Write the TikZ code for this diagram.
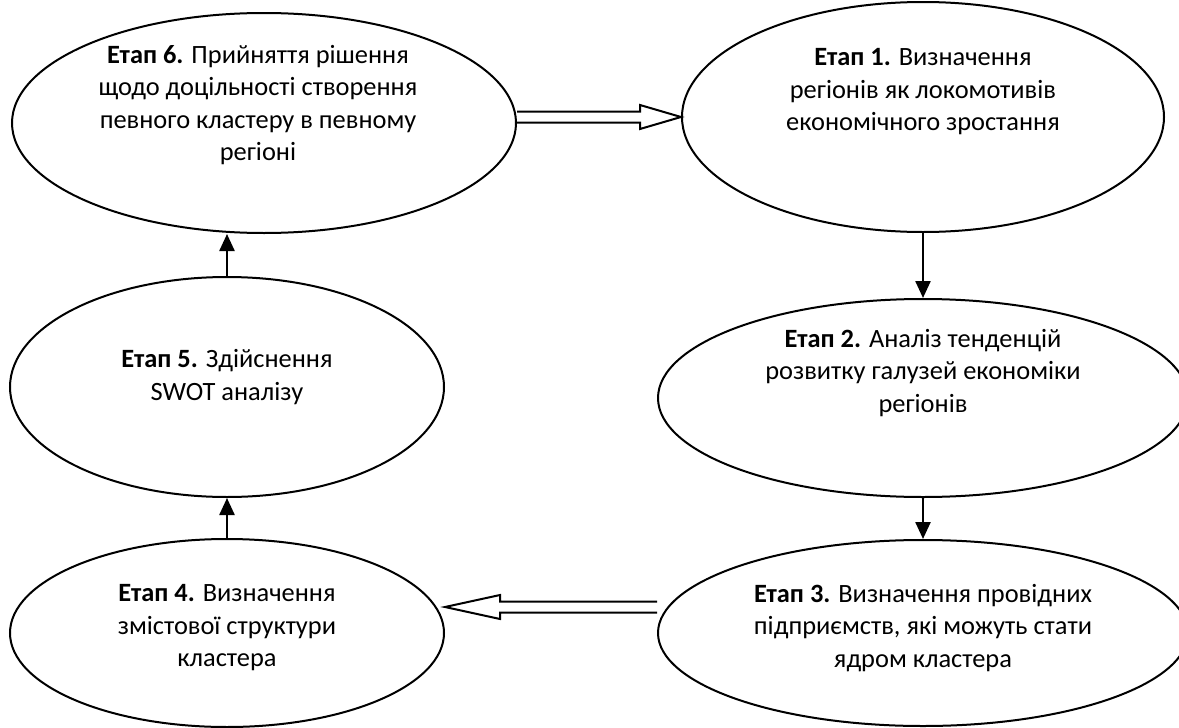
\documentclass[tikz,border=0pt]{standalone}
\usepackage{fontspec}
\setmainfont{Carlito}
\usetikzlibrary{calc,shapes.geometric,arrows.meta}

\begin{document}
\begin{tikzpicture}[x=0.5pt,y=-0.5pt, stage/.style={ellipse, draw, line width=1pt, inner sep=0pt},
	txt/.style={align=center, inner sep=0pt, font=\fontsize{13.2}{16.25}\selectfont},
	>={Triangle[length=8.5pt,width=7.5pt]}, line width=1.2pt]

\useasboundingbox (0,0) rectangle (1179,728);

% stages
\node[stage, minimum width=252pt, minimum height=110pt] (S6) at (264,123) {};
\node[stage, minimum width=241pt, minimum height=115pt] (S1) at (923,117) {};
\node[stage, minimum width=265pt, minimum height=99pt] (S2) at (923,398) {};
\node[stage, minimum width=265pt, minimum height=93pt] (S3) at (923,633) {};
\node[stage, minimum width=217pt, minimum height=94pt] (S4) at (227,633) {};
\node[stage, minimum width=217pt, minimum height=110pt] (S5) at (227,387) {};

\node[txt] (T6) at ($(S6.center)+(-6,-18)$) {\textbf{Етап 6.} Прийняття рішення\\щодо доцільності створення\\певного кластеру в певному\\регіоні};
\node[txt] (T1) at ($(S1.center)+(0,-25)$) {\textbf{Етап 1.} Визначення\\регіонів як локомотивів\\економічного зростання};
\node[txt] (T2) at ($(S2.center)+(0,-25)$) {\textbf{Етап 2.} Аналіз тенденцій\\розвитку галузей економіки\\регіонів};
\node[txt] (T3) at ($(S3.center)+(0,-5)$) {\textbf{Етап 3.} Визначення провідних\\підприємств, які можуть стати\\ядром кластера};
\node[txt] (T4) at ($(S4.center)+(0,-5)$) {\textbf{Етап 4.} Визначення\\змістової структури\\кластера};
\node[txt] (T5) at ($(S5.center)+(0,-10)$) {\textbf{Етап 5.} Здійснення\\SWOT аналізу};

\draw[->] (S1.south) -- (S2.north);
\draw[->] (S2.south) -- (S3.north);
\draw[->] (S4.north) -- (S5.south);
\draw[->] (S5.north) -- (S5.north |- S6.south);

% hollow arrows
\draw[line width=1pt] let \p1 = (S6.east), \p2 = (S1.west) in
	(\x1,\y2+2.75pt) -- (\x2-20.5pt,\y2+2.75pt) -- (\x2-20.5pt,\y2+6pt) -- (\x2,\y2)
	-- (\x2-20.5pt,\y2-6pt) -- (\x2-20.5pt,\y2-2.75pt) -- (\x1,\y2-2.75pt);
\draw[line width=1pt] let \p1 = (S3.west), \p2 = (S4.east) in
	(\x1,\y2+15.75pt) -- (\x2+27.5pt,\y2+15.75pt) -- (\x2+27.5pt,\y2+19pt) -- (\x2,\y2+13pt)
	-- (\x2+27.5pt,\y2+7pt) -- (\x2+27.5pt,\y2+10.25pt) -- (\x1,\y2+10.25pt);
\end{tikzpicture}
\end{document}
